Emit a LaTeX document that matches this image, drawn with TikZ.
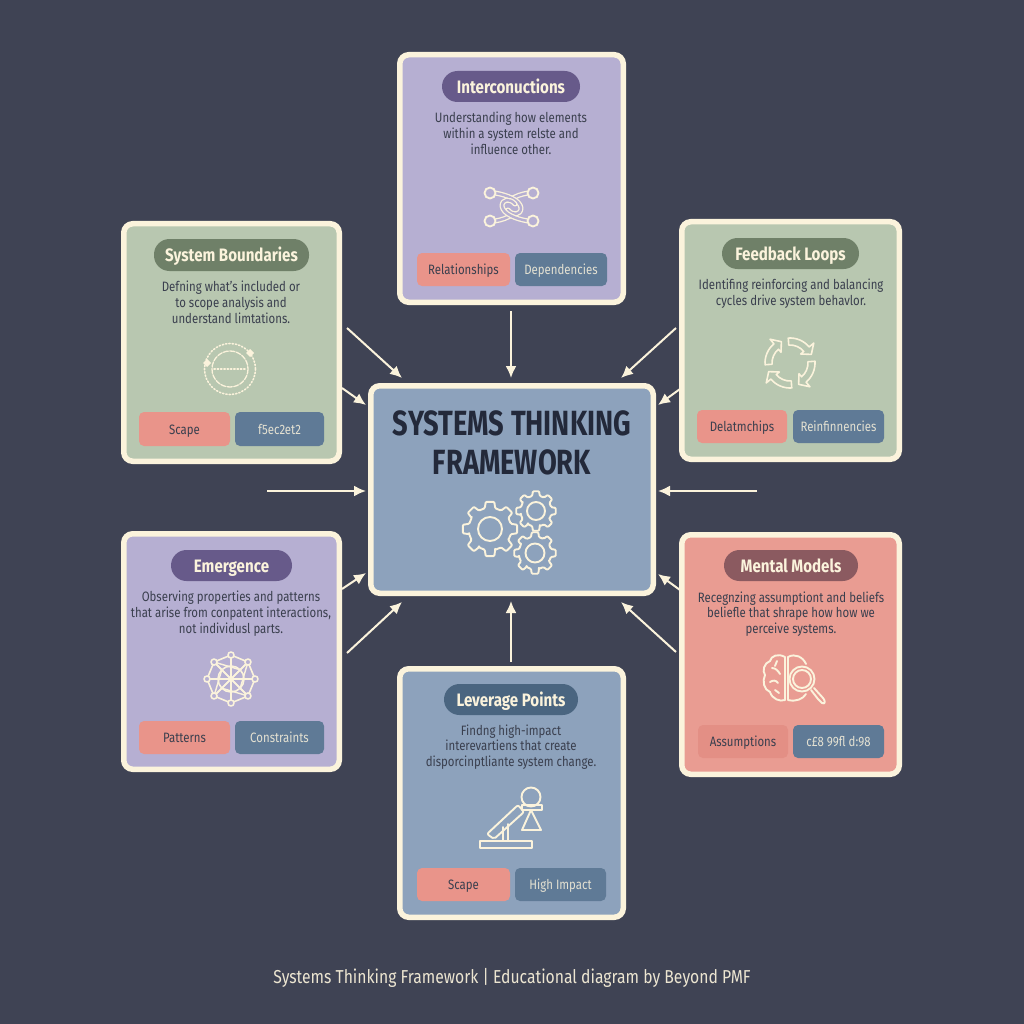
\documentclass[tikz,border=0pt]{standalone}
\usepackage{fontspec}
\setmainfont[FakeStretch=0.84]{Fira Sans}
\newfontfamily\titlef[FakeStretch=0.78]{Fira Sans}
\usetikzlibrary{arrows.meta}
\definecolor{bgc}{HTML}{3F4354}
\definecolor{cream}{HTML}{FBF3DC}
\definecolor{lav}{HTML}{B6AFD2}
\definecolor{sage}{HTML}{B8C7B0}
\definecolor{steel}{HTML}{8DA2BC}
\definecolor{salm}{HTML}{E99C92}
\definecolor{plav}{HTML}{675A8A}
\definecolor{psage}{HTML}{6F8068}
\definecolor{psteel}{HTML}{4A6580}
\definecolor{psalm}{HTML}{8B5A60}
\definecolor{tagred}{HTML}{E9948A}
\definecolor{tagdim}{HTML}{E38F85}
\definecolor{tagblue}{HTML}{5F7A96}
\definecolor{inkc}{HTML}{3A3F4E}
\definecolor{titlec}{HTML}{23293A}
\tikzset{
  cardbox/.style={draw=cream,line width=5.5pt,rounded corners=9pt,inner sep=0pt,outer sep=0pt},
  pillbox/.style={rounded corners=15.5pt,inner sep=0pt,outer sep=0pt,text=cream,text height=14pt,text depth=0.6pt,font=\fontsize{18}{20}\selectfont\bfseries},
  bodytext/.style={text=inkc,align=center,inner sep=0pt,font=\fontsize{13.6}{15.8}\selectfont},
  tagbox/.style={rounded corners=5pt,inner sep=0pt,outer sep=0pt,text height=10.4pt,text depth=0pt,font=\fontsize{13.6}{15}\selectfont},
  tagr/.style={tagbox,fill=tagred,text=inkc},
  tagb/.style={tagbox,fill=tagblue,text=cream!85!tagblue},
  flow/.style={draw=cream,line width=2pt,-{Latex[length=12pt,width=11pt]}},
  icon/.style={draw=cream,line width=1.9pt,line cap=round,line join=round},
  thinicon/.style={draw=cream,line width=1.3pt,line cap=round,line join=round},
  band/.style={thinicon,double=lav,double distance=2.4pt}
}
\newcommand{\cardrect}[6]{%
  \pgfmathsetmacro{\cw}{#4-#2-5.5}\pgfmathsetmacro{\ch}{#5-#3-5.5}%
  \node[cardbox,fill=#6,minimum width=\cw pt,minimum height=\ch pt] (#1) at ({(#2+#4)/2},{(#3+#5)/2}) {};}
\newcommand{\boxrect}[7]{%
  \pgfmathsetmacro{\cw}{#4-#2}\pgfmathsetmacro{\ch}{#5-#3}%
  \node[#6,minimum width=\cw pt,minimum height=\ch pt] (#1) at ({(#2+#4)/2},{(#3+#5)/2}) {#7};}
\newcommand{\gearicon}[4]{%
  \begin{scope}[shift={(#1,#2)}]
  \pgfmathsetmacro{\ra}{#3}\pgfmathsetmacro{\rb}{#3*0.78}
  \draw[icon,rounded corners=1pt] (-14:\rb)
    \foreach \k in {0,45,...,315} {
      -- ({\k-14}:\rb) -- ({\k-9}:\ra) -- ({\k+9}:\ra) -- ({\k+14}:\rb) -- ({\k+31}:\rb)
    } -- cycle;
  \draw[icon] (0,0) circle[radius=#4];
  \end{scope}}
\begin{document}
\begin{tikzpicture}[x=1pt,y=-1pt]
\useasboundingbox (0,0) rectangle (1024,1024);
\fill[bgc] (0,0) rectangle (1024,1024);

% centre
\cardrect{center}{368}{383}{656}{596}{steel}
\node[text=titlec,align=center,inner sep=0pt,font=\fontsize{35}{39}\selectfont\titlef\bfseries] (title) at (512,443) {SYSTEMS THINKING\\FRAMEWORK};
\gearicon{490}{529}{27.5}{12}
\gearicon{536}{511}{20}{9}
\gearicon{535}{553}{21}{9.5}

% Interconnections
\cardrect{inter}{397}{52}{626}{305}{lav}
\boxrect{interp}{442}{71}{580}{102}{pillbox,fill=plav}{Interconuctions}
\node[bodytext] (interb) at (511,133.5) {Understanding how elements\\within a system relste and\\influence other.};
\boxrect{intera}{417}{253}{510}{286}{tagr}{Relationships}
\boxrect{interc}{515}{253}{607}{286}{tagb}{Dependencies}
\draw[band] (528,193) .. controls (522,194) and (515,196) .. (510,200);
\draw[band] (495,221) .. controls (501,220) and (508,218) .. (513,214);
\draw[band] (495,193) .. controls (507,195) and (520,200) .. (521,208) .. controls (521,215) and (513,216) .. (508,210);
\draw[band] (528,221) .. controls (516,219) and (503,214) .. (502,206) .. controls (502,199) and (510,198) .. (515,204);
\draw[icon,fill=lav] (490,193) circle[radius=5.5];
\draw[icon,fill=lav] (533,193) circle[radius=5.5];
\draw[icon,fill=lav] (490,221) circle[radius=5.5];
\draw[icon,fill=lav] (533,221) circle[radius=5.5];

% System Boundaries
\cardrect{sysb}{121}{221}{342}{464}{sage}
\boxrect{sysbp}{154}{239}{309}{271}{pillbox,fill=psage}{System Boundaries}
\node[bodytext] (sysbb) at (231,302) {Defning what's included or\\to scope analysis and\\understand limtations.};
\boxrect{sysba}{139}{412}{230}{446}{tagr}{Scape}
\boxrect{sysbc}{235}{412}{324}{446}{tagb}{f5ec2et2}
\draw[thinicon,dotted,line width=1.6pt] (230,369) circle[radius=25.5];
\draw[thinicon,dash pattern=on 5pt off 1.5pt] (230,369) circle[radius=18];
\draw[thinicon,dotted,line width=1.6pt] (214,369) -- (245,369);
\fill[cream] (207,359) -- (211,363) -- (207,367) -- (203,363) -- cycle;
\fill[cream] (250,349) -- (254,353) -- (250,357) -- (246,353) -- cycle;

% Feedback Loops
\cardrect{feed}{679}{219}{902}{462}{sage}
\boxrect{feedp}{722}{238}{859}{269}{pillbox,fill=psage}{Feedback Loops}
\node[bodytext] (feedb) at (791,294) {Identifing reinforcing and balancing\\cycles drive system behavlor.};
\boxrect{feeda}{697}{410}{787}{443}{tagr}{Delatmchips}
\boxrect{feedc}{793}{410}{884}{443}{tagb}{Reinfinnencies}
\begin{scope}[shift={(790,363)}]
\foreach \r in {24,114,204,294}{
  \begin{scope}[rotate=\r]
  \draw[icon,line width=1.6pt] (-70:18) arc[start angle=-70,end angle=-16,radius=18]
    -- (-16:14) -- (2:23) -- (-16:31) -- (-16:25)
    arc[start angle=-16,end angle=-70,radius=25] -- cycle;
  \end{scope}
}
\end{scope}

% Emergence
\cardrect{emer}{121}{531}{342}{772}{lav}
\boxrect{emerp}{171}{550}{292}{581}{pillbox,fill=plav}{Emergence}
\node[bodytext] (emerb) at (231,613.5) {Observing properties and patterns\\that arise from conpatent interactions,\\not individusl parts.};
\boxrect{emera}{139}{721}{230}{754}{tagr}{Patterns}
\boxrect{emerc}{235}{721}{324}{754}{tagb}{Constraints}
\begin{scope}[shift={(231,679)}]
\draw[icon,line width=1.6pt] (0,0) circle[radius=13];
\draw[icon,line width=1.6pt] (90:24) -- (45:24) -- (0:24) -- (-45:24) -- (-90:24) -- (-135:24) -- (180:24) -- (135:24) -- cycle;
\foreach \a in {0,90,180,270}{ \draw[icon,line width=1.6pt] (0,0) -- (\a:24); }
\foreach \a in {45,135,225,315}{ \draw[icon,line width=1.6pt] (\a:24) -- (\a+180:24); }
\foreach \a in {0,90,180,270}{ \draw[icon,line width=1.4pt] (\a+45:24) -- (\a+135:13); }
\foreach \a in {0,45,...,315}{ \draw[icon,line width=1.6pt,fill=lav] (\a:24) circle[radius=3]; }
\end{scope}

% Mental Models
\cardrect{ment}{679}{532}{902}{777}{salm}
\boxrect{mentp}{724}{550}{858}{581}{pillbox,fill=psalm}{Mental Models}
\node[bodytext] (mentb) at (791,614) {Recegnzing assumptiont and beliefs\\beliefle that shrape how how we\\perceive systems.};
\boxrect{menta}{698}{725}{788}{758}{tagbox,fill=tagdim,text=inkc}{Assumptions}
\boxrect{mentc}{793}{725}{884}{758}{tagb}{c£8 99fl d:98}
\draw[icon] (785,657) .. controls (778,653) and (771,656) .. (770,661) .. controls (764,663) and (762,671) .. (765,675) .. controls (762,681) and (764,690) .. (770,692) .. controls (772,699) and (780,702) .. (785,700) -- cycle;
\draw[icon] (772,668) .. controls (776,668) and (778,671) .. (780,674);
\draw[icon] (770,682) .. controls (773,680) and (776,680) .. (778,683);
\draw[icon] (777,661) -- (775,666);
\draw[icon] (775,690) -- (779,693);
\draw[icon] (788,657) .. controls (795,653) and (803,657) .. (806,664);
\draw[icon] (788,657) -- (788,700) .. controls (796,702) and (803,699) .. (806,694);
\draw[icon] (802,679) circle[radius=12.5];
\draw[icon] (802,679) circle[radius=9];
\draw[icon] (811,690) -- (818,699) -- (822,703) .. controls (826,705) and (825,700) .. (823,698) -- (814,688);

% Leverage Points
\cardrect{lever}{397}{666}{626}{920}{steel}
\boxrect{leverp}{444}{684}{578}{715}{pillbox,fill=psteel}{Leverage Points}
\node[bodytext] (leverb) at (511,747) {Findng high-impact\\interevartiens that create\\disporcinptliante system change.};
\boxrect{levera}{417}{868}{510}{901}{tagr}{Scape}
\boxrect{leverc}{515}{868}{606}{901}{tagb}{High Impact}
\draw[icon] (531,797) circle[radius=9.5];
\draw[icon] (480,841) rectangle (532,848);
\draw[icon] (503,827) -- (503,841) (508,824) -- (508,841);
\draw[icon,rounded corners=2pt] (487,834) -- (518,805) -- (524,812) -- (494,839) -- cycle;
\draw[icon] (522,805) rectangle (542,810);
\draw[icon] (531,810) -- (522,830) -- (541,830) -- cycle;

% connectors
\coordinate (a1) at (511,311); \coordinate (b1) at (511,378);
\coordinate (a2) at (347,328); \coordinate (b2) at (402,378);
\coordinate (a3) at (342,388); \coordinate (b3) at (366,405);
\coordinate (a4) at (676,328); \coordinate (b4) at (621,378);
\coordinate (a5) at (680,389); \coordinate (b5) at (658,405);
\coordinate (a6) at (267,491); \coordinate (b6) at (366,491);
\coordinate (a7) at (757,491); \coordinate (b7) at (658,491);
\coordinate (a8) at (342,589); \coordinate (b8) at (366,573);
\coordinate (a9) at (347,653); \coordinate (b9) at (402,602);
\coordinate (a10) at (680,590); \coordinate (b10) at (658,574);
\coordinate (a11) at (676,652); \coordinate (b11) at (621,602);
\coordinate (a12) at (511,662); \coordinate (b12) at (511,601);
\foreach \i in {1,...,12}{ \draw[flow] (a\i) -- (b\i); }

\node[text=cream!92!bgc,inner sep=0pt,font=\fontsize{18.7}{22}\selectfont] (foot) at (512,978) {Systems Thinking Framework | Educational diagram by Beyond PMF};
\end{tikzpicture}
\end{document}
